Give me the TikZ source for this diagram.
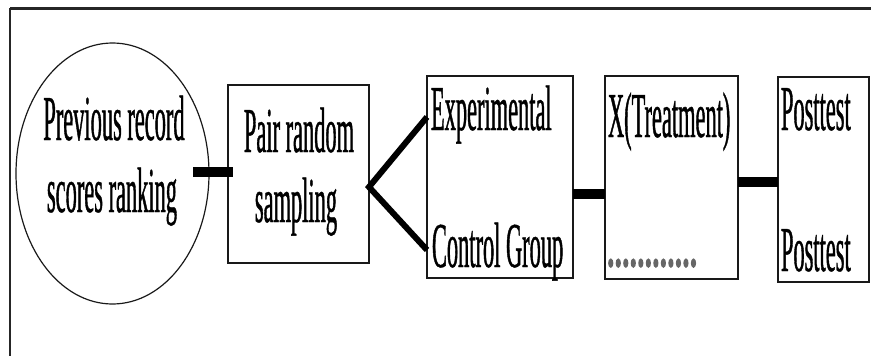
\documentclass[tikz,border=0pt]{standalone}
\usepackage{fontspec}
\usetikzlibrary{shapes.geometric}
\newfontfamily\narrowserif[FakeStretch=0.35,FakeBold=0.6]{Liberation Serif}
\newfontfamily\dotserif[FakeStretch=0.47,FakeBold=2.5]{Liberation Serif}
\begin{document}
\begin{tikzpicture}[x=1pt,y=-1pt,
  boxnode/.style={draw=black!90,line width=1.2pt,inner sep=0pt,outer sep=0pt},
  hedge/.style={draw=black!90,line width=2.6pt},
  bar/.style={draw=black,line width=10pt,line cap=butt},
  fork/.style={draw=black,line width=6pt,line cap=butt,line join=miter},
  txt/.style={inner sep=0pt,outer sep=0pt,font=\narrowserif\fontsize{64}{72}\selectfont},
  dotline/.style={inner sep=0pt,outer sep=0pt,text=black!60,font=\dotserif\fontsize{64}{72}\selectfont}]
\useasboundingbox (0,0) rectangle (871,356);
% outer frame (top and left sides)
\draw[line width=3pt,black!85] (10,8) -- (871,8);
\draw[line width=1.5pt,black!85] (10,8) -- (10,356);

% nodes
\node[boxnode,ellipse,minimum width=193pt,minimum height=261pt] (ell) at (112.5,173.5) {};
\node[boxnode,minimum width=141pt,minimum height=178pt] (pair) at (298.5,174) {};
\node[boxnode,minimum width=146pt,minimum height=202pt] (exp) at (500,177) {};
\node[boxnode,minimum width=133pt,minimum height=203pt] (trt) at (671.5,177.5) {};
\node[boxnode,minimum width=91pt,minimum height=205pt] (post) at (823.5,179.5) {};

% heavier horizontal edges of the boxes
\foreach \b in {pair,exp,trt,post}{
  \draw[hedge] (\b.north west) -- (\b.north east);
  \draw[hedge] (\b.south west) -- (\b.south east);
}

% labels
\node[txt,anchor=base] (l1) at (114,140) {Previous record};
\node[txt,anchor=base] (l2) at (112,212) {scores ranking};
\node[txt,anchor=base] (l3) at (299,152) {Pair random};
\node[txt,anchor=base] (l4) at (296,222) {sampling};
\node[txt,anchor=base west] (l5) at (431,130) {Experimental};
\node[txt,anchor=base west] (l6) at (432,267) {Control Group};
\node[txt,anchor=base west] (l7) at (608,137) {X(Treatment)};
\node[dotline,anchor=base west] (l8) at (607,266) {............};
\node[txt,anchor=base west] (l9) at (781,130) {Posttest};
\node[txt,anchor=base west] (l10) at (781,271) {Posttest};

% connectors
\draw[bar] ([xshift=-16pt,yshift=1.5pt]ell.east) -- ([xshift=5pt,yshift=2pt]pair.west);
\draw[fork] ([yshift=60pt]exp.west) -- ([yshift=-13pt]pair.east) -- ([yshift=-73pt]exp.west);
\draw[bar] ([yshift=-17pt]exp.east) -- ([yshift=-16.5pt]trt.west);
\draw[bar] ([yshift=-4.5pt]trt.east) -- ([yshift=-2.5pt]post.west);
\end{tikzpicture}
\end{document}
